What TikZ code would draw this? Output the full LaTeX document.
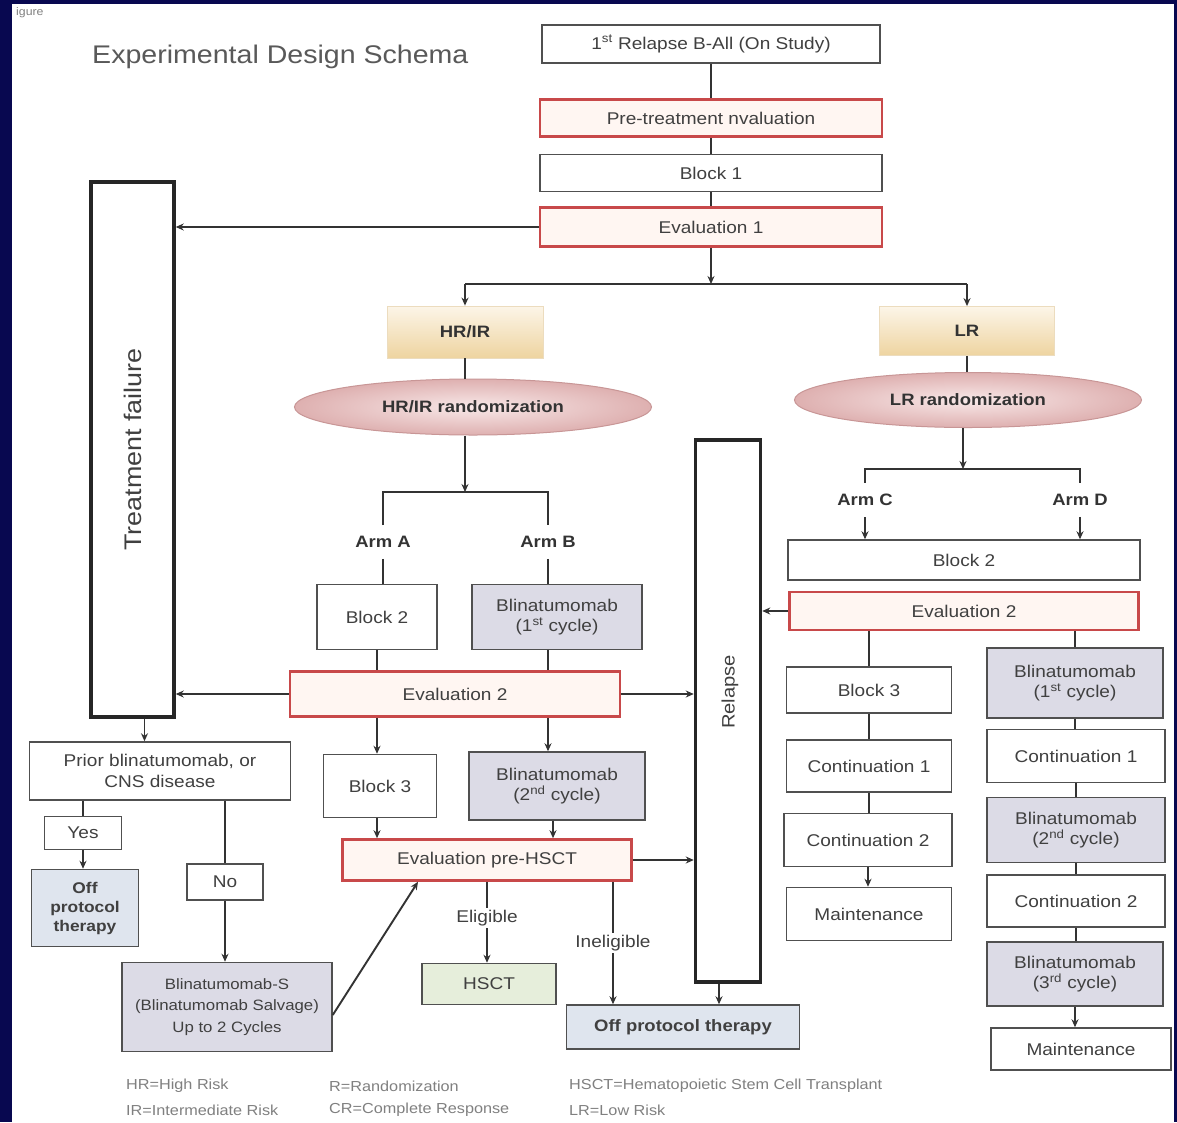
\documentclass[tikz,border=0pt]{standalone}
\usepackage{fontspec}
\setmainfont{Liberation Sans}[FakeStretch=1.12]
\usetikzlibrary{arrows.meta,shapes.geometric}
\definecolor{navy}{RGB}{8,8,80}
\definecolor{bdr}{HTML}{505050}
\definecolor{redb}{HTML}{C8494A}
\definecolor{evfill}{HTML}{FFF6F2}
\definecolor{lavf}{HTML}{DCDBE6}
\definecolor{offf}{HTML}{DFE5EE}
\definecolor{hsctf}{HTML}{E6EEDB}
\definecolor{txt}{HTML}{404040}
\definecolor{lin}{HTML}{333333}
\definecolor{legc}{HTML}{808080}
\definecolor{risktop}{RGB}{252,245,232}
\definecolor{riskbot}{RGB}{238,212,160}
\definecolor{riskbd}{RGB}{236,220,190}
\definecolor{rndin}{RGB}{248,232,232}
\definecolor{rndout}{RGB}{222,176,176}
\definecolor{rndbd}{RGB}{200,150,150}
\begin{document}
\begin{tikzpicture}[x=1pt,y=-1pt,
  every node/.style={font=\fontsize{17}{20.5}\selectfont, text=txt, align=center, inner sep=2pt},
  bx/.style={draw=bdr, line width=1.5pt, fill=white},
  ev/.style={draw=redb, line width=2.6pt, fill=evfill},
  lav/.style={bx, fill=lavf},
  ln/.style={draw=lin, line width=1.9pt},
  ar/.style={ln, -{Stealth[length=8pt,width=7pt]}},
  tall/.style={draw=black!85, line width=3.5pt, fill=white},
  risk/.style={top color=risktop, bottom color=riskbot, draw=riskbd, line width=0.8pt, font=\bfseries\fontsize{16.5}{20}\selectfont, text=black!80},
  rnd/.style={ellipse, inner color=rndin, outer color=rndout, draw=rndbd, line width=1pt, font=\bfseries\fontsize{16.5}{20}\selectfont, text=black!80},
  arm/.style={font=\bfseries\fontsize{16.5}{20}\selectfont, text=black!80, inner ysep=11pt},
  leg/.style={anchor=west, font=\fontsize{14.5}{17}\selectfont, text=legc},
]
\useasboundingbox (0,0) rectangle (1177,1122);
\fill[navy] (0,0) rectangle (1177,1122);
\fill[white] (12,4) rectangle (1174,1122);

\node[anchor=west, font=\fontsize{11}{12}\selectfont, text=gray] (fig) at (14,13) {igure};
\node[anchor=west, font=\fontsize{25.5}{30}\selectfont, text=black!65] (title) at (90,57) {Experimental Design Schema};

% top column
\node[bx, minimum width=338, minimum height=38] (n1) at (711,44) {1\textsuperscript{st} Relapse B-All (On Study)};
\node[ev, minimum width=342, minimum height=37] (pre) at (711,118) {Pre-treatment nvaluation};
\node[bx, minimum width=342, minimum height=37] (b1) at (711,173) {Block 1};
\node[ev, minimum width=342, minimum height=39] (e1) at (711,227) {Evaluation 1};

% failure / relapse columns
\node[tall, minimum width=83, minimum height=535] (tf) at (132.5,449.5) {};
\node[rotate=90, font=\fontsize{24}{28}\selectfont, text=black!75] (tft) at (tf.center) {Treatment failure};
\node[tall, minimum width=65, minimum height=542] (rel) at (728,711) {};
\node[rotate=90, font=\fontsize{18}{22}\selectfont, text=black!75] (relt) at (730,692) {Relapse};

% risk groups
\node[risk, minimum width=156, minimum height=52] (hr) at (465,332) {HR/IR};
\node[risk, minimum width=175, minimum height=49] (lr) at (967,331) {LR};
\node[rnd, minimum width=357, minimum height=56] (hrr) at (473,407) {HR/IR randomization};
\node[rnd, minimum width=347, minimum height=55] (lrr) at (968,400) {LR randomization};

\coordinate (j1) at (711,284);
\coordinate (jL) at (465,284);
\coordinate (jR) at (967,284);

% arms A/B
\coordinate (jab) at (465,492);
\node[arm] (armA) at (383,542) {Arm A};
\node[arm] (armB) at (548,542) {Arm B};
\node[bx, minimum width=120, minimum height=65] (b2a) at (377,617) {Block 2};
\node[lav, minimum width=170, minimum height=65] (blA) at (557,617) {Blinatumomab\\(1\textsuperscript{st} cycle)};
\node[ev, minimum width=330, minimum height=45] (ev2) at (455,694) {Evaluation 2};
\node[bx, minimum width=113, minimum height=63] (b3a) at (380,786) {Block 3};
\node[lav, minimum width=176, minimum height=68] (blA2) at (557,786) {Blinatumomab\\(2\textsuperscript{nd} cycle)};
\node[ev, minimum width=289, minimum height=41] (ph) at (487,860) {Evaluation pre-HSCT};
\node (elig) at (487,918) {Eligible};
\node[bx, fill=hsctf, minimum width=134, minimum height=41] (hsct) at (489,984) {HSCT};
\node (inel) at (613,943) {Ineligible};
\node[bx, fill=offf, minimum width=233, minimum height=44, font=\bfseries\fontsize{16.5}{20}\selectfont] (offm) at (683,1027) {Off protocol therapy};

% failure branch
\node[bx, minimum width=261, minimum height=58] (prior) at (160,771) {Prior blinatumomab, or\\CNS disease};
\node[bx, minimum width=77, minimum height=33] (yes) at (83,833) {Yes};
\node[bx, fill=offf, minimum width=107, minimum height=77, font=\bfseries\fontsize{15.5}{19}\selectfont] (offl) at (85,908) {Off\\protocol\\therapy};
\node[bx, minimum width=76, minimum height=36] (no) at (225,882) {No};
\node[lav, minimum width=210, minimum height=89, font=\fontsize{15}{21.5}\selectfont] (blS) at (227,1007) {Blinatumomab-S\\(Blinatumomab Salvage)\\Up to 2 Cycles};

% arms C/D
\coordinate (jcd) at (963,469);
\node[arm] (armC) at (865,500) {Arm C};
\node[arm] (armD) at (1080,500) {Arm D};
\node[bx, minimum width=352, minimum height=40] (b2r) at (964,560) {Block 2};
\node[ev, minimum width=349, minimum height=38] (ev2r) at (964,611) {Evaluation 2};
\node[bx, minimum width=165, minimum height=46] (b3r) at (869,690) {Block 3};
\node[bx, minimum width=165, minimum height=52] (c1l) at (869,766) {Continuation 1};
\node[bx, minimum width=168, minimum height=53] (c2l) at (868,840) {Continuation 2};
\node[bx, minimum width=165, minimum height=53] (mtl) at (869,914) {Maintenance};
\node[lav, minimum width=176, minimum height=70] (bl1r) at (1075,683) {Blinatumomab\\(1\textsuperscript{st} cycle)};
\node[bx, minimum width=178, minimum height=53] (c1r) at (1076,756) {Continuation 1};
\node[lav, minimum width=178, minimum height=65] (bl2r) at (1076,830) {Blinatumomab\\(2\textsuperscript{nd} cycle)};
\node[bx, minimum width=178, minimum height=52] (c2r) at (1076,901) {Continuation 2};
\node[lav, minimum width=176, minimum height=64] (bl3r) at (1075,974) {Blinatumomab\\(3\textsuperscript{rd} cycle)};
\node[bx, minimum width=180, minimum height=42] (mtr) at (1081,1049) {Maintenance};

% legend
\node[leg] (l1) at (124,1086) {HR=High Risk};
\node[leg] (l2) at (124,1110) {IR=Intermediate Risk};
\node[leg] (l3) at (327,1086) {R=Randomization};
\node[leg] (l4) at (327,1110) {CR=Complete Response};
\node[leg] (l5) at (567,1086) {HSCT=Hematopoietic Stem Cell Transplant};
\node[leg] (l6) at (567,1110) {LR=Low Risk};

% ---- connectors ----
\draw[ln] (n1.south) -- (pre.north);
\draw[ln] (pre.south) -- (b1.north);
\draw[ln] (b1.south) -- (e1.north);
\draw[ar] (e1.west) -- (e1.west -| tf.east);
\draw[ar] (e1.south) -- (j1);
\draw[ln] (jL) -- (jR);
\draw[ar] (jL) -- (jL |- hr.north);
\draw[ar] (jR) -- (jR |- lr.north);
\draw[ln] (hr.south) -- (hr.south |- hrr.north);
\draw[ln] (lr.south) -- (lr.south |- lrr.north);

\draw[ar] (jab |- hrr.south) -- (jab);
\draw[ln] (armA.north) -- (armA.north |- jab) -- (armB.north |- jab) -- (armB.north);
\draw[ln] (armA.south) -- (armA.south |- b2a.north);
\draw[ln] (armB.south) -- (armB.south |- blA.north);
\draw[ln] (b2a.south) -- (b2a.south |- ev2.north);
\draw[ln] (armB.south |- blA.south) -- (armB.south |- ev2.north);
\draw[ar] (ev2.west) -- (ev2.west -| tf.east);
\draw[ar] (ev2.east) -- (ev2.east -| rel.west);
\draw[ar] (b2a.south |- ev2.south) -- (b2a.south |- b3a.north);
\draw[ar] (armB.south |- ev2.south) -- (armB.south |- blA2.north);
\draw[ar] (b2a.south |- b3a.south) -- (b2a.south |- ph.north);
\draw[ar] ([xshift=-4pt]blA2.south) -- ([xshift=-4pt]blA2.south |- ph.north);
\draw[ar] (ph.east) -- (ph.east -| rel.west);
\draw[ln] (ph.south) -- (elig.north);
\draw[ar] (elig.south) -- (elig.south |- hsct.north);
\draw[ln] (inel.north |- ph.south) -- (inel.north);
\draw[ar] (inel.south) -- (inel.south |- offm.north);
\draw[ar] ([xshift=-9pt]rel.south) -- ([xshift=-9pt]rel.south |- offm.north);

\draw[ar] ([xshift=12pt]tf.south) -- ([xshift=12pt]tf.south |- prior.north);
\draw[ln] (yes.north |- prior.south) -- (yes.north);
\draw[ar] (yes.south) -- (yes.south |- offl.north);
\draw[ln] (no.north |- prior.south) -- (no.north);
\draw[ar] (no.south) -- (no.south |- blS.north);
\draw[ar] ([yshift=-8pt]blS.east) -- ([xshift=-69pt]ph.south);

\draw[ar] (lrr.south -| jcd) -- (jcd);
\draw[ln] (armC.north) -- (armC.north |- jcd) -- (armD.north |- jcd) -- (armD.north);
\draw[ar] (armC.south) -- (armC.south |- b2r.north);
\draw[ar] (armD.south) -- (armD.south |- b2r.north);
\draw[ar] (ev2r.west) -- (ev2r.west -| rel.east);
\draw[ln] (b3r.north |- ev2r.south) -- (b3r.north);
\draw[ln] (b3r.south) -- (c1l.north);
\draw[ln] (c1l.south) -- (c1l.south |- c2l.north);
\draw[ar] (c2l.south) -- (c2l.south |- mtl.north);
\draw[ln] (bl1r.north |- ev2r.south) -- (bl1r.north);
\draw[ln] (bl1r.south) -- (bl1r.south |- c1r.north);
\draw[ln] (c1r.south) -- (c1r.south |- bl2r.north);
\draw[ln] (bl2r.south) -- (bl2r.south |- c2r.north);
\draw[ln] (c2r.south) -- (c2r.south |- bl3r.north);
\draw[ar] (bl3r.south) -- (bl3r.south |- mtr.north);
\end{tikzpicture}
\end{document}
